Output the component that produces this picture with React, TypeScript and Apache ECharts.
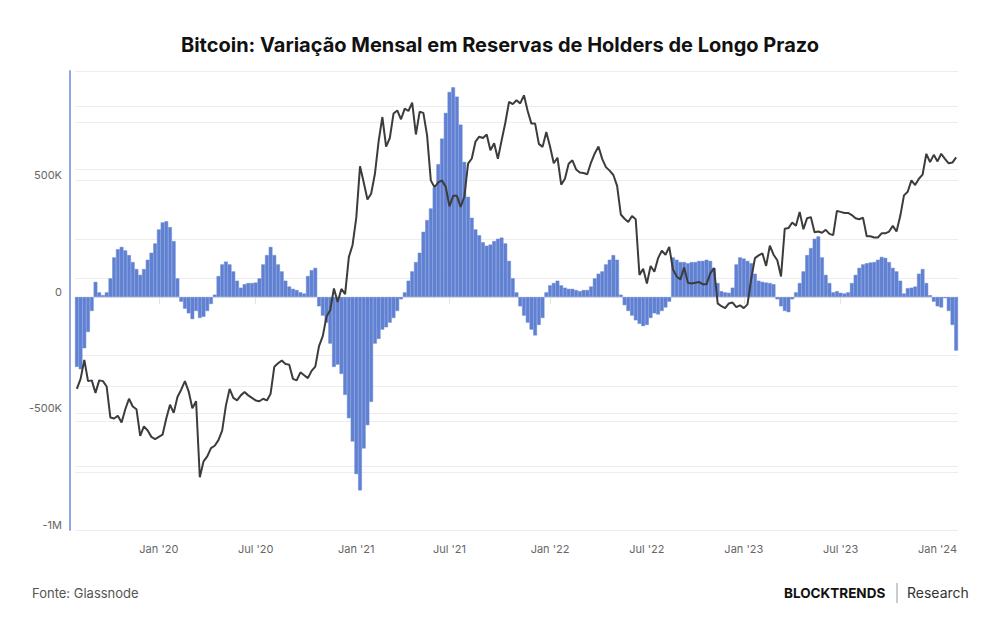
import React, { useEffect, useRef } from "react";
import * as echarts from "echarts";

// Weekly categories: each week starts on the date shown (first week 2019-07-26)
const FIRST_WEEK = "2019-07-26";
const WEEK_COUNT = 237;
const categories: string[] = Array.from({ length: WEEK_COUNT }, (_, i) => {
  const d = new Date(Date.parse(FIRST_WEEK + "T00:00:00Z") + i * 7 * 86400000);
  return d.toISOString().slice(0, 10);
});

// Monthly change in long-term-holder supply (BTC, thousands)
const lthChangeK: number[] = [
  -300, -310, -220, -150, -60, 65, 20, 8, 20, 80,
  170, 205, 215, 200, 180, 150, 120, 95, 120, 160,
  190, 230, 290, 320, 325, 300, 240, 80, -20, -50,
  -70, -95, -60, -90, -85, -60, -30, 10, 90, 140,
  152, 140, 110, 70, 40, 55, 60, 60, 62, 80,
  140, 180, 215, 180, 140, 110, 70, 45, 35, 30,
  20, 15, 90, 115, 125, -40, -80, -110, -200, -300,
  -290, -330, -420, -520, -620, -760, -830, -650, -550, -450,
  -200, -180, -140, -130, -110, -90, -60, -10, 20, 70,
  110, 150, 190, 280, 330, 380, 470, 570, 680, 790,
  880, 900, 860, 740, 580, 430, 340, 290, 265, 235,
  220, 225, 240, 250, 255, 230, 155, 80, 20, -40,
  -80, -110, -140, -165, -120, -90, 20, 50, 60, 70,
  50, 40, 35, 35, 30, 25, 30, 30, 45, 80,
  100, 110, 140, 160, 180, 160, 10, -35, -60, -80,
  -100, -115, -125, -120, -90, -70, -75, -60, -45, -20,
  170, 160, 150, 150, 145, 150, 150, 155, 155, 160,
  155, 125, 60, 25, 20, 18, 40, 140, 170, 165,
  155, 145, 100, 70, 65, 62, 60, 55, -10, -40,
  -60, -65, -10, 20, 60, 110, 180, 210, 250, 260,
  170, 95, 60, 20, 25, 18, 15, 20, 60, 95,
  125, 140, 145, 148, 150, 160, 172, 168, 150, 125,
  110, 70, 15, 38, 40, 45, 100, 120, 60, 8,
  -20, -40, -45, -5, -60, -120, -230,
];

// Bitcoin price (USD), same weeks
const btcPrice: number[] = [
  9850, 10500, 11850, 10350, 10400, 9600, 10400, 10350, 10000, 8200,
  8150, 8300, 7950, 8650, 9250, 8800, 8650, 7300, 7750, 7550,
  7250, 7150, 7250, 7350, 8150, 8900, 8450, 9350, 9800, 10350,
  9700, 8700, 9100, 5600, 6200, 6400, 6750, 6850, 7100, 7550,
  8850, 9850, 9300, 9150, 9450, 9650, 9450, 9300, 9150, 9100,
  9250, 9150, 9550, 11350, 11600, 11800, 11550, 11500, 10500, 10400,
  10950, 10750, 10550, 11050, 11350, 12950, 13800, 15600, 16300, 18700,
  17150, 18650, 18050, 22850, 24700, 29400, 40800, 36800, 33000, 34300,
  38900, 47900, 55900, 46300, 48900, 57200, 58300, 55100, 59000, 58100,
  61300, 50000, 57800, 57400, 49700, 37300, 35700, 36800, 37300, 35800,
  31600, 33800, 33800, 31500, 33600, 41500, 42900, 47800, 49300, 48900,
  50000, 45200, 47300, 42800, 48100, 53900, 61600, 60700, 62200, 61000,
  64200, 58100, 53600, 53600, 47100, 46200, 50800, 46300, 41600, 43100,
  36300, 37700, 41500, 42400, 40000, 39200, 39100, 38800, 41800, 44300,
  46300, 42800, 40600, 39700, 38600, 36000, 30000, 29200, 28600, 29700,
  29100, 20400, 21200, 19300, 21600, 20800, 22700, 23800, 23200, 24400,
  21100, 20200, 19800, 21400, 19400, 19300, 19400, 19500, 19200, 19200,
  20600, 21300, 17000, 16700, 16500, 17000, 17100, 16600, 16800, 16500,
  16900, 19900, 22700, 23100, 23400, 21600, 24600, 23200, 22400, 20200,
  27400, 27500, 28500, 27900, 30500, 27300, 29300, 29500, 26800, 26900,
  26700, 27200, 26500, 26300, 30700, 30500, 30300, 30300, 29900, 29300,
  29100, 29400, 26100, 26100, 25900, 25900, 26600, 26600, 26900, 27900,
  26900, 29700, 33900, 34700, 37300, 36200, 37700, 38700, 44200, 41900,
  43900, 42100, 44200, 42800, 41600, 41800, 43200,
];

// Reference lines of the (hidden) log price axis, USD
const priceGridLevels: number[] = [6000, 8000, 10000, 20000, 40000, 60000];

const TITLE = "Bitcoin: Variação Mensal em Reservas de Holders de Longo Prazo";

function halfYearLabel(v: string): string {
  const t = Date.parse(v + "T00:00:00Z");
  for (let k = 0; k < 7; k++) {
    const d = new Date(t + k * 86400000);
    if (d.getUTCDate() === 1 && (d.getUTCMonth() === 0 || d.getUTCMonth() === 6)) {
      const m = d.getUTCMonth() === 0 ? "Jan" : "Jul";
      return m + " '" + String(d.getUTCFullYear()).slice(2);
    }
  }
  return "";
}
const weekHasHalfYearStart = (v: string): boolean => halfYearLabel(v) !== "";

export default function App() {
  const ref = useRef<HTMLDivElement>(null);
  useEffect(() => {
    if (!ref.current) return;
    const chart = echarts.init(ref.current, null, { renderer: "svg" });
    const font = "Inter, 'Noto Sans', sans-serif";
    chart.setOption({
      animation: false,
      backgroundColor: "#ffffff",
      textStyle: { fontFamily: font },
      title: {
        text: TITLE,
        left: "center",
        top: 30,
        textStyle: { fontSize: 20, fontWeight: "bold", color: "#111111", fontFamily: font },
      },
      grid: { left: 75, right: 42, top: 71, bottom: 100, containLabel: false },
      xAxis: {
        type: "category",
        data: categories,
        boundaryGap: true,
        axisLine: { show: true, lineStyle: { color: "#e3e3e3", width: 1 } },
        axisTick: {
          show: true,
          alignWithLabel: true,
          length: 7,
          interval: (_i: number, v: string) => weekHasHalfYearStart(v),
          lineStyle: { color: "#e3e3e3" },
        },
        axisLabel: {
          interval: (_i: number, v: string) => weekHasHalfYearStart(v),
          formatter: (v: string) => halfYearLabel(v),
          color: "#666666",
          fontSize: 11,
          margin: 13,
          fontFamily: font,
        },
        splitLine: { show: false },
      },
      yAxis: [
        {
          type: "value",
          min: -1000000,
          max: 970000,
          interval: 250000,
          offset: 5,
          axisLine: { show: true, lineStyle: { color: "#92a6e6", width: 2 } },
          axisTick: { show: false },
          axisLabel: {
            color: "#666666",
            fontSize: 11,
            margin: 8,
            verticalAlign: "bottom",
            fontFamily: font,
            showMaxLabel: false,
            formatter: (v: number) => {
              if (v % 500000 !== 0) return "";
              if (v === 0) return "0";
              if (Math.abs(v) >= 1000000) return v / 1000000 + "M";
              return v / 1000 + "K";
            },
          },
          splitLine: { show: true, lineStyle: { color: "#ededed", width: 1 } },
        },
        {
          type: "log",
          logBase: 10,
          min: 4000,
          max: 75000,
          show: false,
          splitLine: { show: false },
        },
      ],
      series: [
        {
          name: "LTH",
          type: "bar",
          yAxisIndex: 0,
          data: lthChangeK.map((v) => v * 1000),
          barCategoryGap: "0%",
          itemStyle: { color: "#6080d2", borderColor: "#6a88d5", borderWidth: 0.5 },
          z: 2,
        },
        {
          name: "BTC",
          type: "line",
          yAxisIndex: 1,
          data: btcPrice,
          showSymbol: false,
          symbol: "none",
          lineStyle: { color: "#3c3c3c", width: 2 },
          z: 3,
          markLine: {
            silent: true,
            symbol: "none",
            label: { show: false },
            lineStyle: { color: "#ededed", width: 1, type: "solid" },
            data: priceGridLevels.map((p) => ({ yAxis: p })),
            z: 1,
          },
        },
      ],
      graphic: [
        {
          type: "text",
          left: 32,
          top: 586,
          style: { text: "Fonte: Glassnode", fontSize: 13, fill: "#555555", fontFamily: font },
        },
        {
          type: "text",
          left: 784,
          top: 586,
          style: { text: "BLOCKTRENDS", fontSize: 13.5, fontWeight: "bold", fill: "#111111", fontFamily: font },
        },
        {
          type: "line",
          shape: { x1: 897, y1: 583, x2: 897, y2: 603 },
          style: { stroke: "#9a9a9a", lineWidth: 1 },
        },
        {
          type: "text",
          left: 907,
          top: 585,
          style: { text: "Research", fontSize: 14, fill: "#333333", fontFamily: font },
        },
      ],
    });
    return () => chart.dispose();
  }, []);
  return (
    <div
      ref={ref}
      style={{ position: "fixed", left: 0, top: 0, width: 1000, height: 630, background: "#fff" }}
    />
  );
}
